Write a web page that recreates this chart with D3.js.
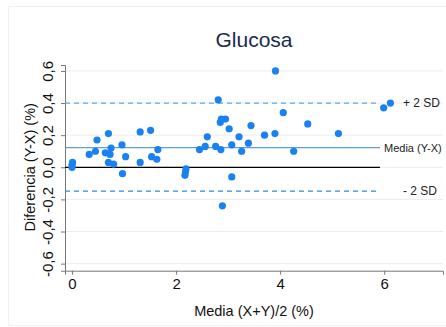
<!DOCTYPE html>
<html>
<head>
<meta charset="utf-8">
<script src="https://cdn.jsdelivr.net/npm/d3@7"></script>
<style>
  body { margin: 0; background: #fff; }
  svg { display: block; font-family: "Liberation Sans", Arial, sans-serif; }
</style>
</head>
<body>
<div id="chart"></div>
<script>
'use strict';

// mean (X+Y)/2 and difference (Y-X)
const meanVals = [0.01, 0, 0, 0.33, 0.45, 0.48, 0.70, 0.64, 0.75, 0.73, 0.70, 0.80, 0.96, 1.03, 0.97,
  1.31, 1.31, 1.51, 1.65, 1.53, 1.63, 2.19, 2.17, 2.18, 2.45, 2.56, 2.60, 2.76, 2.86, 2.81, 2.85,
  2.87, 2.95, 3.02, 3.07, 3.07, 2.89, 3.21, 3.26, 3.39, 3.44, 3.70, 3.90, 4.06, 3.91, 4.53, 5.12,
  4.26, 5.99, 6.12];
const diffVals = [0.03, 0.015, 0.0, 0.08, 0.10, 0.17, 0.21, 0.09, 0.12, 0.08, 0.03, 0.02, 0.14, 0.066, -0.04,
  0.22, 0.03, 0.23, 0.11, 0.066, 0.05, -0.01, -0.05, -0.03, 0.11, 0.13, 0.19, 0.13, 0.11, 0.42, 0.28,
  0.30, 0.30, 0.24, 0.14, -0.06, -0.24, 0.19, 0.10, 0.15, 0.26, 0.20, 0.21, 0.34, 0.60, 0.27, 0.21,
  0.10, 0.37, 0.40];

const meanDiff = 0.122;
const upperSD = 0.40;
const lowerSD = -0.148;
const lineEnd = 5.92;

const xTicks = [0, 2, 4, 6];
const yTicks = [-0.6, -0.4, -0.2, 0, 0.2, 0.4, 0.6];

const width = 446;
const height = 327;
const plotLeft = 65, plotRight = 443, plotTop = 65, plotBottom = 270.7;

const svg = d3.select('#chart').append('svg')
  .attr('width', width)
  .attr('height', height);

// faint outer frame of the graph region
svg.append('rect')
  .attr('x', 8.5).attr('y', 6.5)
  .attr('width', 460).attr('height', 319)
  .attr('fill', 'none')
  .attr('stroke', '#f1f3f3');

const x = d3.scaleLinear().domain([-0.135, 7.13]).range([plotLeft, plotRight]);
const y = d3.scaleLinear().domain([-0.644, 0.637]).range([plotBottom, plotTop]);

const fmt = v => d3.format('.1f')(v).replace('.', ',').replace('−', '-');

// grid
svg.append('g')
  .selectAll('line')
  .data(yTicks)
  .join('line')
  .attr('x1', plotLeft).attr('x2', plotRight)
  .attr('y1', d => y(d)).attr('y2', d => y(d))
  .attr('stroke', '#ececec')
  .attr('stroke-width', 1);

// axes
const yAxis = svg.append('g')
  .attr('transform', `translate(${plotLeft},0)`)
  .call(d3.axisLeft(y).tickValues(yTicks).tickSize(4).tickFormat(fmt));
yAxis.select('.domain').attr('stroke', '#777');
yAxis.selectAll('.tick line').attr('stroke', '#777');
yAxis.selectAll('.tick text')
  .attr('font-size', 15)
  .attr('fill', '#111')
  .attr('text-anchor', 'middle')
  .attr('transform', 'rotate(-90)')
  .attr('x', 0)
  .attr('dy', 0)
  .attr('y', -12);

const xAxis = svg.append('g')
  .attr('transform', `translate(0,${plotBottom})`)
  .call(d3.axisBottom(x).tickValues(xTicks).tickSize(4).tickFormat(d3.format('d')));
xAxis.select('.domain').attr('stroke', '#777');
xAxis.selectAll('.tick line').attr('stroke', '#777');
xAxis.selectAll('.tick text')
  .attr('font-size', 15)
  .attr('fill', '#111')
  .attr('y', 8);

// reference lines
const refs = [
  { v: upperSD, color: '#5aa8f0', dash: '5,4', label: '+ 2 SD', lx: 403, fs: 12 },
  { v: meanDiff, color: '#5d9fd6', dash: null, label: 'Media (Y-X)', lx: 384, fs: 11 },
  { v: lowerSD, color: '#2f8ad8', dash: '5,4', label: '- 2 SD', lx: 403, fs: 12 }
];

svg.append('line')
  .attr('x1', plotLeft).attr('x2', x(lineEnd))
  .attr('y1', y(0)).attr('y2', y(0))
  .attr('stroke', '#000').attr('stroke-width', 1.2);

refs.forEach(r => {
  svg.append('line')
    .attr('x1', plotLeft).attr('x2', x(lineEnd))
    .attr('y1', y(r.v)).attr('y2', y(r.v))
    .attr('stroke', r.color)
    .attr('stroke-width', 1.3)
    .attr('stroke-dasharray', r.dash);
  svg.append('text')
    .attr('x', r.lx)
    .attr('y', y(r.v))
    .attr('dy', '0.35em')
    .attr('font-size', r.fs)
    .attr('fill', '#222')
    .text(r.label);
});

// points
svg.append('g')
  .selectAll('circle')
  .data(meanVals.map((m, i) => [m, diffVals[i]]))
  .join('circle')
  .attr('cx', d => x(d[0]))
  .attr('cy', d => y(d[1]))
  .attr('r', 3.6)
  .attr('fill', '#1a82f0');

// titles
svg.append('text')
  .attr('x', (plotLeft + plotRight) / 2)
  .attr('y', 47)
  .attr('text-anchor', 'middle')
  .attr('font-size', 21)
  .attr('fill', '#1c2b4e')
  .text('Glucosa');

svg.append('text')
  .attr('x', (plotLeft + plotRight) / 2)
  .attr('y', 316)
  .attr('text-anchor', 'middle')
  .attr('font-size', 14.5)
  .attr('fill', '#111')
  .text('Media (X+Y)/2 (%)');

svg.append('text')
  .attr('transform', `translate(35,${y(0)}) rotate(-90)`)
  .attr('text-anchor', 'middle')
  .attr('font-size', 14.5)
  .attr('fill', '#111')
  .text('Diferencia (Y-X) (%)');
</script>
</body>
</html>
